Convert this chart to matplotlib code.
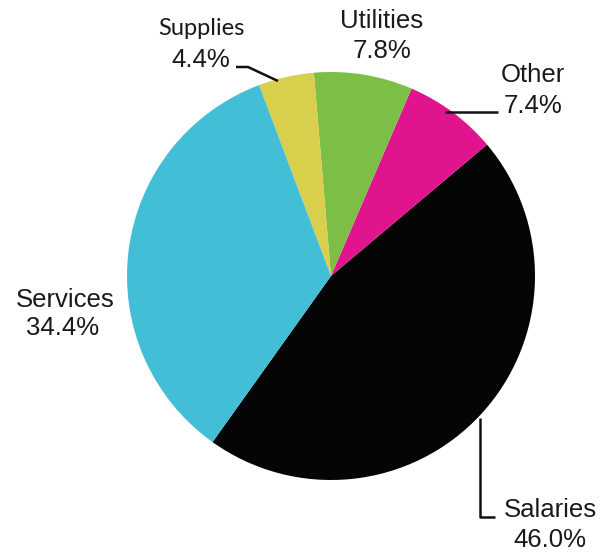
import matplotlib.pyplot as plt

CATEGORIES = ["Salaries", "Other", "Utilities", "Supplies", "Services"]
SHARES = [46.0, 7.4, 7.8, 4.4, 34.4]
COLORS = ["#050505", "#E0148C", "#7DBE46", "#D8CF4C", "#42BED6"]

W, H = 605, 552
CENTER = (331, H - 276)
RADIUS = 204

# label anchor (x, baseline y) in pixel coordinates from the top-left
LABELS = {
    "Supplies": ((201, 35), (201, 67)),
    "Utilities": ((382, 28), (382, 58)),
    "Other": ((533, 82), (533, 113)),
    "Services": ((65, 307), (63, 335)),
    "Salaries": ((550, 517), (550, 547)),
}

LEADERS = {
    "Supplies": [(236, 67), (248, 67), (278, 81)],
    "Other": [(445, 112), (498, 112)],
    "Salaries": [(480, 418), (480, 517), (495, 517)],
}

TEXT_COLOR = "#1a1a1a"


def main():
    fig = plt.figure(figsize=(W / 100, H / 100), dpi=100)
    ax = fig.add_axes([0, 0, 1, 1])

    ax.pie(SHARES, colors=COLORS, startangle=-125.5, counterclock=True,
           center=CENTER, radius=RADIUS, wedgeprops=dict(linewidth=0))

    ax.set_xlim(0, W)
    ax.set_ylim(0, H)
    ax.set_aspect("equal")
    ax.axis("off")

    for name, share in zip(CATEGORIES, SHARES):
        (nx, ny), (px, py) = LABELS[name]
        family = "Lato" if name == "Supplies" else "Liberation Sans"
        size = 17 if name == "Supplies" else 18.5
        ax.text(nx, H - ny, name, ha="center", va="baseline",
                fontsize=size, family=family, color=TEXT_COLOR)
        ax.text(px, H - py, f"{share:.1f}%", ha="center", va="baseline",
                fontsize=18.5, family="Liberation Sans", color=TEXT_COLOR)

    for pts in LEADERS.values():
        xs = [p[0] for p in pts]
        ys = [H - p[1] for p in pts]
        ax.plot(xs, ys, color="#111111", linewidth=1.8, solid_capstyle="butt")

    fig.savefig("out.png", dpi=100)
    plt.close(fig)


if __name__ == "__main__":
    main()
